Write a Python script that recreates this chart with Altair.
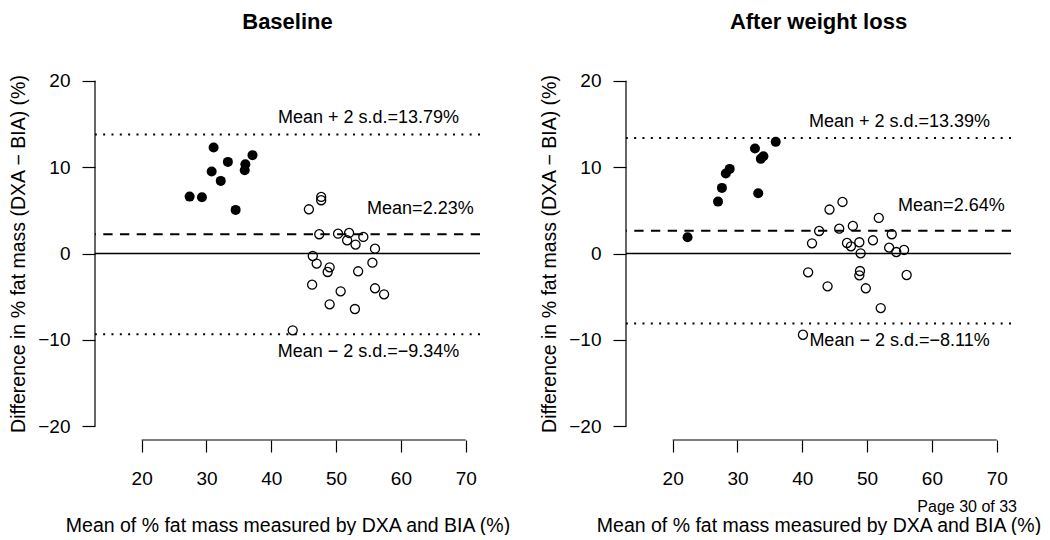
import altair as alt
import pandas as pd

FONT = "Liberation Sans"

# ---------------- data ----------------
x_ticks = [20, 30, 40, 50, 60, 70]
y_ticks = [-20, -10, 0, 10, 20]

# Baseline panel
base_closed_x = [31.1, 37.1, 33.3, 36.0, 30.8, 35.9, 32.2, 27.4, 29.3, 34.5]
base_closed_y = [12.28, 11.39, 10.61, 10.34, 9.49, 9.65, 8.41, 6.59, 6.52, 5.05]
base_open_x = [47.7, 47.7, 45.8, 47.4, 50.3, 52.0, 54.2, 51.7, 53.0, 56.0, 46.4, 47.0,
               55.6, 49.0, 48.7, 53.4, 46.3, 50.7, 56.0, 57.4, 49.0, 52.9, 43.3]
base_open_y = [6.55, 6.17, 5.12, 2.23, 2.30, 2.38, 1.92, 1.53, 1.03, 0.56, -0.29, -1.17,
               -1.06, -1.60, -2.14, -2.06, -3.61, -4.38, -4.03, -4.73, -5.89, -6.43, -8.90]
base_stats = [2.23, 13.79, -9.34]   # mean, mean+2sd, mean-2sd

# After weight loss panel
after_closed_x = [35.9, 32.7, 34.0, 33.6, 28.8, 28.2, 27.6, 33.2, 27.0, 22.3]
after_closed_y = [12.93, 12.16, 11.27, 10.96, 9.80, 9.26, 7.60, 6.98, 6.01, 1.88]
after_open_x = [46.2, 44.2, 51.8, 47.8, 45.7, 42.6, 53.8, 50.9, 48.8, 46.9, 41.5, 47.5,
                53.4, 55.7, 54.5, 49.0, 40.9, 48.9, 48.8, 56.1, 43.9, 49.8, 52.1, 40.1]
after_open_y = [5.97, 5.09, 4.12, 3.19, 2.88, 2.61, 2.23, 1.53, 1.30, 1.22, 1.18, 0.83,
                0.68, 0.41, 0.17, 0.02, -2.18, -2.03, -2.53, -2.49, -3.80, -4.03, -6.32, -9.41]
after_stats = [2.64, 13.39, -8.11]

titles = ["Baseline", "After weight loss"]
x_title = "Mean of % fat mass measured by DXA and BIA (%)"
y_title = "Difference in % fat mass (DXA \u2212 BIA) (%)"
page_note = "Page 30 of 33"

# ---------------- layout / style ----------------
W, H = 385, 373
X_DOMAIN = [12.8, 72.2]
Y_DOMAIN = [-21.6, 21.6]


def fmt(v):
    return f"{v:.2f}".replace("-", "\u2212")


def panel(title, cx, cy, ox, oy, stats, note=None):
    xs = alt.Scale(domain=X_DOMAIN, nice=False, zero=False)
    ys = alt.Scale(domain=Y_DOMAIN, nice=False, zero=False)
    xax = alt.Axis(values=x_ticks, domain=False, grid=False, ticks=True, tickSize=12,
                   tickWidth=1.2, tickColor="black", labelFont=FONT, labelFontSize=19,
                   labelColor="black", labelPadding=17, title=x_title, titleFont=FONT,
                   titleFontSize=19.5, titleFontWeight="normal", titleColor="black",
                   titlePadding=28, labelFlush=False)
    yax = alt.Axis(values=y_ticks, domain=False, grid=False, ticks=True, tickSize=13,
                   tickWidth=1.2, tickColor="black", labelFont=FONT, labelFontSize=19,
                   labelColor="black", labelPadding=12, title=y_title, titleFont=FONT,
                   titleFontSize=19.5, titleFontWeight="normal", titleColor="black",
                   titlePadding=9, labelFlush=False)

    def X(f):
        return alt.X(f"{f}:Q", scale=xs, axis=xax)

    def Y(f):
        return alt.Y(f"{f}:Q", scale=ys, axis=yax)

    closed = pd.DataFrame({"x": cx, "y": cy})
    opened = pd.DataFrame({"x": ox, "y": oy})

    zero = alt.Chart(pd.DataFrame({"v": [0]})).mark_rule(
        color="black", strokeWidth=1.3).encode(y=Y("v"))
    mean = alt.Chart(pd.DataFrame({"v": [stats[0]]})).mark_rule(
        color="black", strokeWidth=2, strokeDash=[9.3, 7.4]).encode(y=Y("v"))
    sd = alt.Chart(pd.DataFrame({"v": [stats[1], stats[2]]})).mark_rule(
        color="black", strokeWidth=2, strokeDash=[2, 6.33]).encode(y=Y("v"))

    yline = alt.Chart(pd.DataFrame({"a": [min(y_ticks)], "b": [max(y_ticks)]})).mark_rule(
        color="black", strokeWidth=1.2).encode(x=alt.value(0), y=Y("a"), y2="b:Q")
    xline = alt.Chart(pd.DataFrame({"a": [min(x_ticks)], "b": [max(x_ticks)]})).mark_rule(
        color="black", strokeWidth=1.2).encode(y=alt.value(H), x=X("a"), x2="b:Q")

    pts_closed = alt.Chart(closed).mark_circle(
        color="black", opacity=1, size=100).encode(x=X("x"), y=Y("y"))
    pts_open = alt.Chart(opened).mark_point(
        shape="circle", filled=False, stroke="black", strokeWidth=1.3, size=82,
        opacity=1).encode(x=X("x"), y=Y("y"))

    ann = pd.DataFrame({
        "x": [55, 63, 55],
        "y": [stats[1] + 1.28, stats[0] + 2.3, stats[2] - 2.65],
        "t": [f"Mean + 2 s.d.={fmt(stats[1])}%", f"Mean={fmt(stats[0])}%",
              f"Mean \u2212 2 s.d.={fmt(stats[2])}%"],
    })
    text = alt.Chart(ann).mark_text(
        font=FONT, fontSize=18, color="black", align="center",
        baseline="alphabetic").encode(x=X("x"), y=Y("y"), text="t:N")

    layers = [sd, mean, zero, yline, xline, pts_open, pts_closed, text]
    if note:
        layers.append(
            alt.Chart(pd.DataFrame({"t": [note]})).mark_text(
                font=FONT, fontSize=16, color="black", align="right",
                baseline="alphabetic").encode(
                x=alt.value(391), y=alt.value(445), text="t:N"))

    return alt.layer(*layers).properties(
        width=W, height=H,
        title=alt.TitleParams(title, font=FONT, fontSize=22, fontWeight="bold",
                              color="black", anchor="middle", baseline="alphabetic",
                              offset=16),
    )


left = panel(titles[0], base_closed_x, base_closed_y, base_open_x, base_open_y, base_stats)
right = panel(titles[1], after_closed_x, after_closed_y, after_open_x, after_open_y,
              after_stats, note=page_note)

chart = alt.hconcat(left, right, spacing=146, bounds="flush").properties(
    padding={"left": 0, "top": 3, "right": 0, "bottom": 0},
    background="white",
).configure_view(stroke=None)

chart.save("out.html", embed_options={"renderer": "svg", "actions": False})
